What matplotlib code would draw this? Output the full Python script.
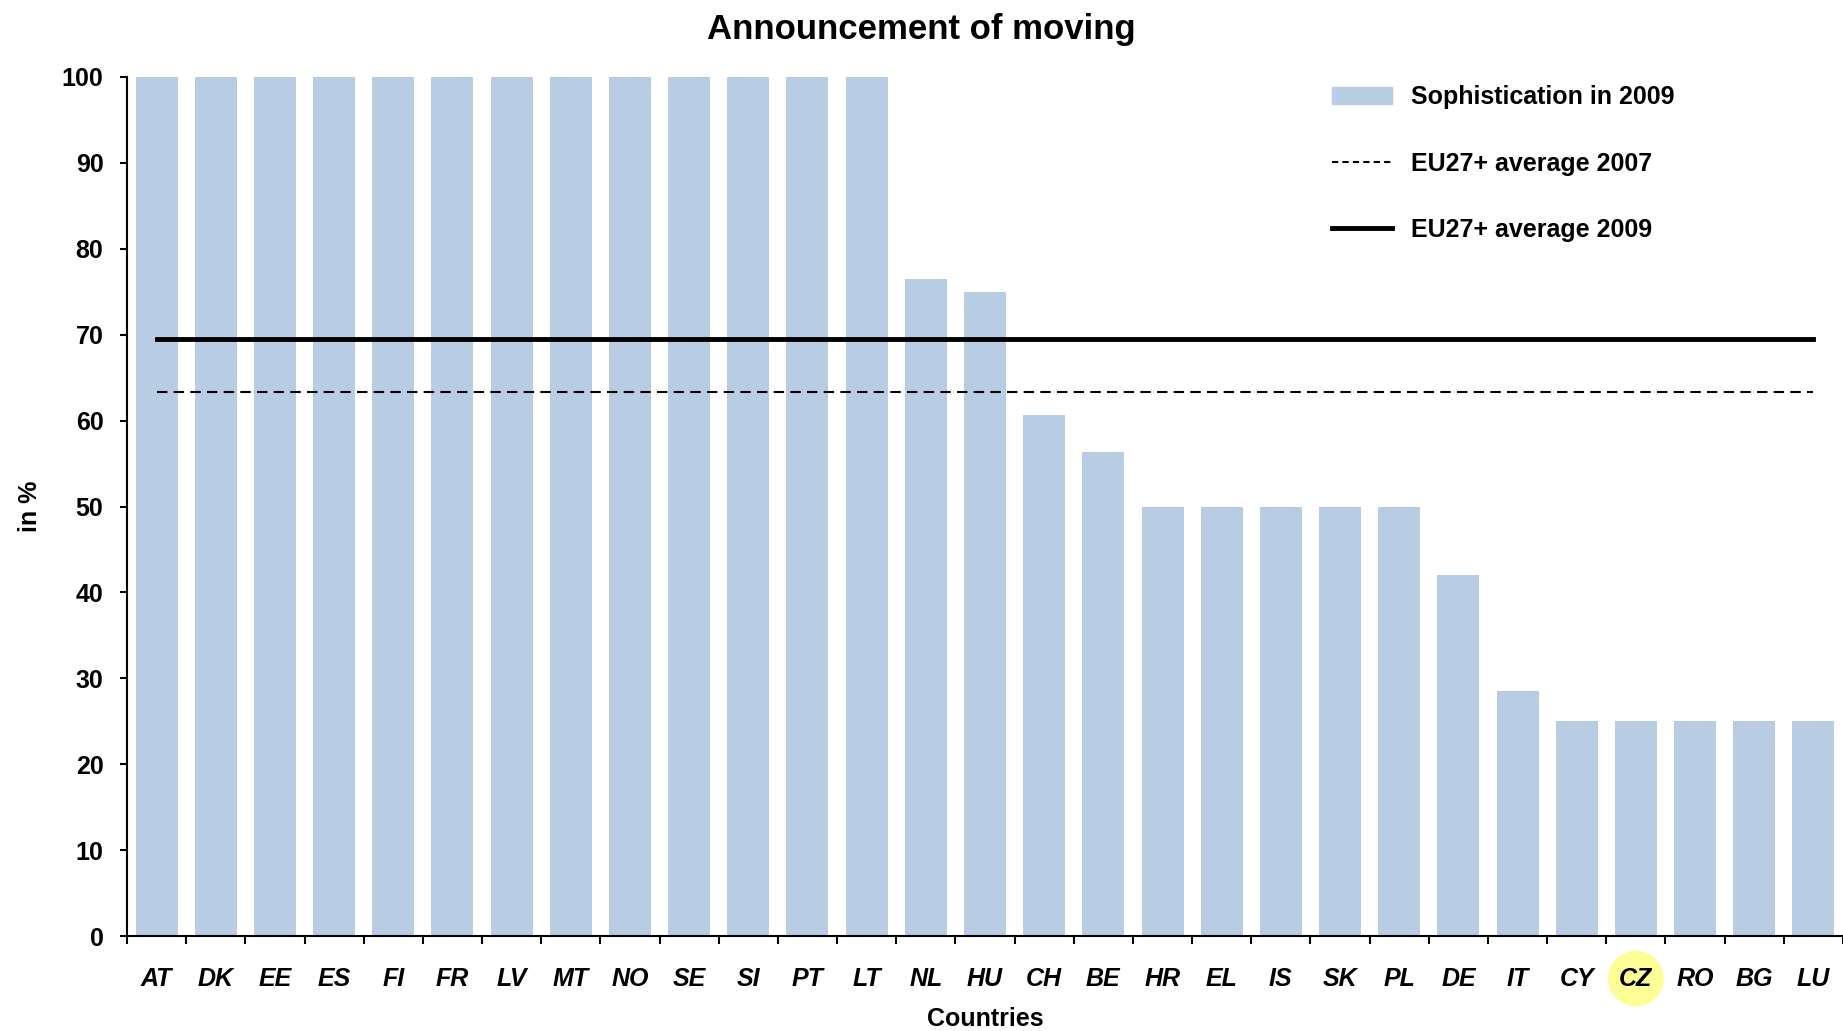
"""
Announcement of moving: sophistication per country, 2009.
"""

import numpy as np
import matplotlib
matplotlib.use("Agg")
import matplotlib.pyplot as plt
from matplotlib.lines import Line2D
from matplotlib.patches import Patch

# ── Data ───────────────────────────────────────────────────────────────────────

COUNTRIES = ["AT", "DK", "EE", "ES", "FI", "FR", "LV", "MT", "NO", "SE",
             "SI", "PT", "LT", "NL", "HU", "CH", "BE", "HR", "EL", "IS",
             "SK", "PL", "DE", "IT", "CY", "CZ", "RO", "BG", "LU"]
SOPHISTICATION_2009 = [100, 100, 100, 100, 100, 100, 100, 100, 100, 100,
                       100, 100, 100, 76.5, 75, 60.6, 56.4, 50, 50, 50,
                       50, 50, 42, 28.5, 25, 25, 25, 25, 25]
EU_AVG_2007 = 63.3
EU_AVG_2009 = 69.5
HIGHLIGHT = "CZ"

BAR_COLOR = "#b8cce4"

# ── Plot ───────────────────────────────────────────────────────────────────────

plt.rcParams["font.family"] = ["Liberation Sans", "DejaVu Sans"]

fig = plt.figure(figsize=(18.43, 10.31), dpi=100)
ax = fig.add_axes([127 / 1843, 1 - 936 / 1031, 1 - 127 / 1843, (936 - 77) / 1031])

x = np.arange(len(COUNTRIES))
ax.bar(x, SOPHISTICATION_2009, width=0.71, color=BAR_COLOR, zorder=1)

ax.plot([x[0], x[-1]], [EU_AVG_2007] * 2, color="k", lw=1.5,
        ls=(0, (5, 3)), zorder=2)
ax.plot([x[0], x[-1]], [EU_AVG_2009] * 2, color="k", lw=3.5, zorder=3)

ax.set_xlim(-0.5, len(COUNTRIES) - 0.5)
ax.set_ylim(0, 100)
ax.set_yticks(np.arange(0, 101, 10))
ax.tick_params(axis="y", labelsize=18, length=5, width=1.5, pad=12)
for lbl in ax.get_yticklabels():
    lbl.set_fontweight("bold")

# ticks sit on category boundaries, labels at centres
ax.set_xticks(np.arange(-0.5, len(COUNTRIES), 1.0))
ax.set_xticklabels([])
ax.set_xticks(x, minor=True)
ax.set_xticklabels(COUNTRIES, minor=True, fontsize=18, fontweight="bold",
                   fontstyle="italic")
ax.tick_params(axis="x", which="major", length=6, width=1.5)
ax.tick_params(axis="x", which="minor", length=0, pad=22)

for lbl in ax.get_xticklabels(minor=True):
    if lbl.get_text() == HIGHLIGHT:
        lbl.set_bbox(dict(boxstyle="circle,pad=0.45", fc="#fdfd96", ec="none"))

for side in ("top", "right"):
    ax.spines[side].set_visible(False)
for side in ("left", "bottom"):
    ax.spines[side].set_linewidth(1.5)

ax.set_xlabel("Countries", fontsize=18, fontweight="bold", labelpad=12)
ax.set_ylabel("in %", fontsize=18, fontweight="bold", labelpad=14)

fig.text(0.5, 1 - 29 / 1031, "Announcement of moving", ha="center",
         va="center", fontsize=25, fontweight="bold")

handles = [
    Patch(color=BAR_COLOR, label="Sophistication in 2009"),
    Line2D([0], [0], color="k", lw=1.5, ls=(0, (3, 2)), label="EU27+ average 2007"),
    Line2D([0], [0], color="k", lw=3.5, label="EU27+ average 2009"),
]
leg = ax.legend(handles=handles, loc="upper left", frameon=False,
                bbox_to_anchor=(1332 / 1843, 1 - 85 / 1031),
                bbox_transform=fig.transFigure, borderpad=0, borderaxespad=0,
                handlelength=2.4, handletextpad=0.75, labelspacing=1.7,
                prop=dict(size=18, weight="bold"))

fig.savefig("out.png", dpi=100)
